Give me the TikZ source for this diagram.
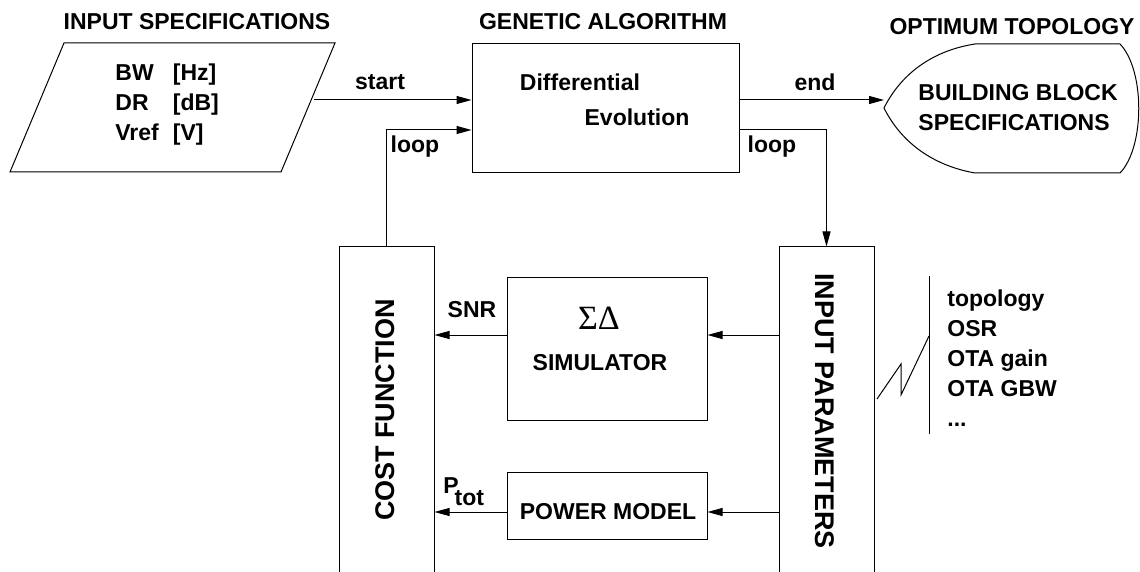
\documentclass[tikz,border=0pt]{standalone}
\usepackage{fontspec}
\setmainfont{Liberation Sans}
\newfontfamily\greekfont{Liberation Serif}
\usetikzlibrary{arrows.meta}

\tikzset{
  blk/.style={draw,line width=0.5pt,inner sep=0pt},
  arr/.style={-{Triangle[length=7.5pt,width=4pt]},line width=0.5pt},
  lbl/.style={font=\fontsize{11.5pt}{15pt}\selectfont\bfseries,inner sep=0pt},
  biglbl/.style={font=\fontsize{13.5pt}{16pt}\selectfont\bfseries,inner sep=0pt},
}

\begin{document}
\begin{tikzpicture}[x=0.5pt,y=-0.5pt]
\useasboundingbox (0,0) rectangle (1140,572);

% -- titles
\node[lbl] (tin) at (197,22) {INPUT SPECIFICATIONS};
\node[lbl] (tga) at (603,22) {GENETIC ALGORITHM};
\node[lbl] (topt) at (1012,27) {OPTIMUM TOPOLOGY};

% -- input specifications
\draw[line width=0.5pt] (64,43) -- (335,43) -- (281,172) -- (10,172) -- cycle;
\node[lbl,anchor=west] (spec) at (115,105) {\begin{tabular}{@{}l@{\hspace{7pt}}l@{}}BW & [Hz]\\ DR & [dB]\\ Vref & [V]\end{tabular}};
\coordinate (startpt) at (314,100);

% -- genetic algorithm
\node[blk,minimum width=133.5pt,minimum height=64.5pt] (ga) at (605.5,108.5) {};
\node[lbl] (diff) at (580,82) {Differential};
\node[lbl] (evo) at (637,117) {Evolution};

% -- optimum topology
\coordinate (opt) at (884,108);
\draw[line width=0.5pt] (opt) .. controls (900,76) and (930,51) .. (975,44) -- (1120,44)
  .. controls (1145,70) and (1145,147) .. (1120,173) -- (975,173)
  .. controls (930,165) and (900,140) .. (opt) -- cycle;
\node[lbl,anchor=west,align=left] (bbs) at (918,108) {BUILDING BLOCK\\SPECIFICATIONS};

% -- lower blocks
\node[blk,minimum width=47.5pt,minimum height=167pt] (cost) at (386.5,414) {};
\node[biglbl,rotate=90] (costt) at (385,410) {COST FUNCTION};
\node[blk,minimum width=47.5pt,minimum height=167pt] (par) at (826.5,414) {};
\node[biglbl,rotate=-90] (part) at (825,411) {INPUT PARAMETERS};
\node[blk,minimum width=100pt,minimum height=71pt] (sim) at (607,349) {};
\node[inner sep=0pt,font=\fontsize{17pt}{20pt}\selectfont\greekfont] (sd) at (599,318) {ΣΔ};
\node[lbl] (simt) at (600,363) {SIMULATOR};
\node[blk,minimum width=100pt,minimum height=33.5pt] (pow) at (607,505.5) {};
\node[lbl] (powt) at (608,512) {POWER MODEL};

% -- draw arrows
\draw[arr] (startpt) -- (ga.west |- startpt);
\node[lbl] (lstart) at (380,82) {start};
\draw[arr] (cost.north) |- ([yshift=-10.75pt]ga.west);
\node[lbl] (lloopa) at (415,147) {loop};
\draw[arr] (ga.east |- startpt) -- (opt |- startpt);
\node[lbl] (lend) at (815,82) {end};
\draw[arr] ([yshift=-10.75pt]ga.east) -| (par.north);
\node[lbl] (lloopb) at (772,147) {loop};

\path ([yshift=7pt]sim.east) coordinate (simin);
\draw[arr] (par.west |- simin) -- (simin);
\draw[arr] (sim.west |- simin) -- (cost.east |- simin);
\node[lbl] (lsnr) at (472,310) {SNR};
\path ([yshift=-3.25pt]pow.east) coordinate (powin);
\draw[arr] (par.west |- powin) -- (powin);
\draw[arr] (pow.west |- powin) -- (cost.east |- powin);
\node[lbl,anchor=base west] (lptot) at (443,493) {P\kern-2pt\raisebox{-6pt}{tot}};

% -- parameter list
\draw[line width=0.5pt] (929,276) -- (929,434);
\draw[line width=0.5pt] (877,399) -- (901,364) -- (901,395) -- (929,336);
\node[lbl,anchor=west,align=left] (plist) at (947,358) {topology\\OSR\\OTA gain\\OTA GBW\\...};
\end{tikzpicture}
\end{document}
